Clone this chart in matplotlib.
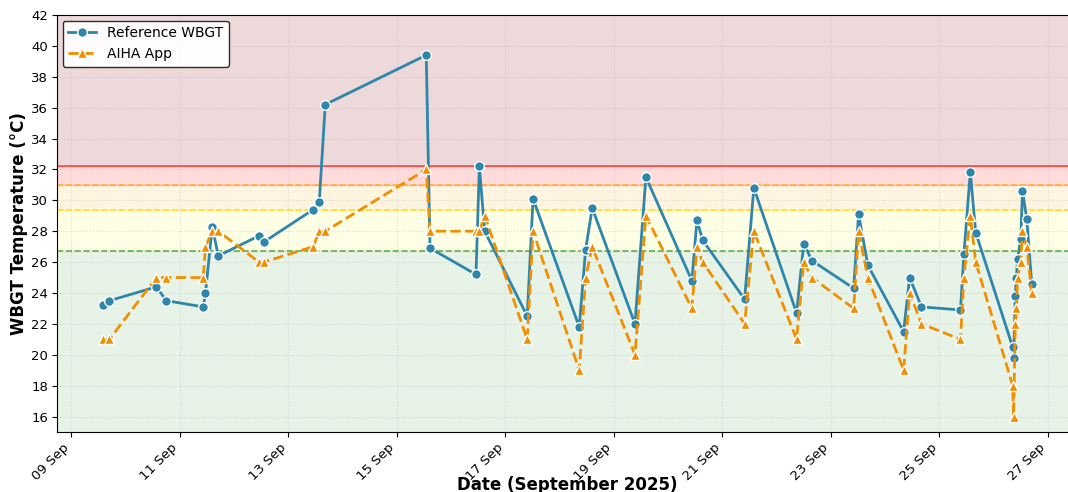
import matplotlib
matplotlib.use("Agg")
import matplotlib.dates as mdates
import matplotlib.pyplot as plt
import pandas as pd

BLUE = "#2E86AB"
ORANGE = "#F18F01"

# sample times (September 2025)
TIMES = [
    "2025-09-09 14:10", "2025-09-09 16:50", "2025-09-10 13:40", "2025-09-10 18:00",
    "2025-09-11 10:20", "2025-09-11 11:20", "2025-09-11 14:20", "2025-09-11 17:00",
    "2025-09-12 11:00", "2025-09-12 13:10", "2025-09-13 11:00", "2025-09-13 13:40",
    "2025-09-13 16:20", "2025-09-15 13:00", "2025-09-15 14:40", "2025-09-16 11:00",
    "2025-09-16 12:30", "2025-09-16 14:50", "2025-09-17 09:40", "2025-09-17 12:15",
    "2025-09-18 08:40", "2025-09-18 11:30", "2025-09-18 14:25", "2025-09-19 09:20",
    "2025-09-19 14:10", "2025-09-20 10:30", "2025-09-20 12:45", "2025-09-20 15:20",
    "2025-09-21 09:50", "2025-09-21 13:55", "2025-09-22 08:50", "2025-09-22 12:00",
    "2025-09-22 15:35", "2025-09-23 10:05", "2025-09-23 12:15", "2025-09-23 16:20",
    "2025-09-24 08:10", "2025-09-24 10:50", "2025-09-24 16:05", "2025-09-25 09:20",
    "2025-09-25 10:50", "2025-09-25 13:40", "2025-09-25 16:05", "2025-09-26 08:25",
    "2025-09-26 08:50", "2025-09-26 09:35", "2025-09-26 10:05", "2025-09-26 10:35",
    "2025-09-26 12:00", "2025-09-26 12:45", "2025-09-26 14:40", "2025-09-26 16:50",
]

REFERENCE_WBGT = [
    23.2, 23.5, 24.4, 23.5, 23.1, 24.0, 28.3, 26.4, 27.7, 27.3, 29.4, 29.9,
    36.2, 39.4, 26.9, 25.2, 32.2, 28.0, 22.5, 30.1, 21.8, 26.8, 29.5, 22.0,
    31.5, 24.8, 28.7, 27.4, 23.6, 30.8, 22.7, 27.2, 26.1, 24.3, 29.1, 25.8,
    21.5, 25.0, 23.1, 22.9, 26.5, 31.8, 27.9, 20.5, 19.8, 23.8, 25.0, 26.2,
    27.5, 30.6, 28.8, 24.6,
]

AIHA_APP = [
    21, 21, 25, 25, 25, 27, 28, 28, 26, 26, 27, 28,
    28, 32, 28, 28, 28, 29, 21, 28, 19, 25, 27, 20,
    29, 23, 27, 26, 22, 28, 21, 26, 25, 23, 28, 25,
    19, 24, 22, 21, 25, 29, 26, 18, 16, 22, 23, 25,
    26, 28, 27, 24,
]

# heat-stress zone limits (°C)
ZONE_LIMITS = [26.7, 29.4, 31.0, 32.2]


def draw_zones(ax):
    lo, l1, l2, l3 = ZONE_LIMITS
    ax.axhspan(0, lo, color="green", alpha=0.09, zorder=0)
    ax.axhspan(lo, l1, color="yellow", alpha=0.10, zorder=0)
    ax.axhspan(l1, l2, color="orange", alpha=0.12, zorder=0)
    ax.axhspan(l2, l3, color="red", alpha=0.14, zorder=0)
    ax.axhspan(l3, 50, color="darkred", alpha=0.15, zorder=0)

    ax.axhline(lo, color="green", linestyle="--", linewidth=1.2, alpha=0.6)
    ax.axhline(l1, color="gold", linestyle="--", linewidth=1.2, alpha=0.8)
    ax.axhline(l2, color="orange", linestyle="--", linewidth=1.2, alpha=0.7)
    ax.axhline(l3, color="red", linestyle="-", linewidth=1.2, alpha=0.6)


def main():
    times = pd.to_datetime(TIMES)

    fig = plt.figure(figsize=(10.68, 4.92), dpi=100)
    ax = fig.add_axes([0.0534, 0.122, 0.956, 0.8476])

    draw_zones(ax)

    ax.plot(times, REFERENCE_WBGT, color=BLUE, linestyle="-", linewidth=2,
            marker="o", markersize=7, markeredgecolor="white", markeredgewidth=1,
            label="Reference WBGT", zorder=3)
    ax.plot(times, AIHA_APP, color=ORANGE, linestyle="--", linewidth=2,
            marker="^", markersize=6.5, markeredgecolor="white", markeredgewidth=1,
            label="AIHA App", zorder=3)

    ax.set_ylim(15, 42)
    ax.set_yticks(range(16, 43, 2))
    ax.set_xlim(pd.Timestamp("2025-09-08 17:40"), pd.Timestamp("2025-09-27 13:20"))
    ax.xaxis.set_major_locator(mdates.DayLocator(bymonthday=range(1, 32, 2)))
    ax.xaxis.set_major_formatter(mdates.DateFormatter("%d %b"))
    plt.setp(ax.get_xticklabels(), rotation=45, ha="right")
    ax.tick_params(labelsize=9.5, pad=3)

    ax.grid(True, linestyle=":", alpha=0.4)
    ax.set_xlabel("Date (September 2025)", fontsize=12, fontweight="bold", labelpad=-5)
    ax.set_ylabel("WBGT Temperature (°C)", fontsize=12, fontweight="bold", labelpad=2)

    leg = ax.legend(loc="upper left", fontsize=10, framealpha=0.95, fancybox=True,
                    borderaxespad=0.4)
    leg.get_frame().set_edgecolor("#222222")

    fig.savefig("out.png", dpi=100)
    plt.close(fig)


if __name__ == "__main__":
    main()
